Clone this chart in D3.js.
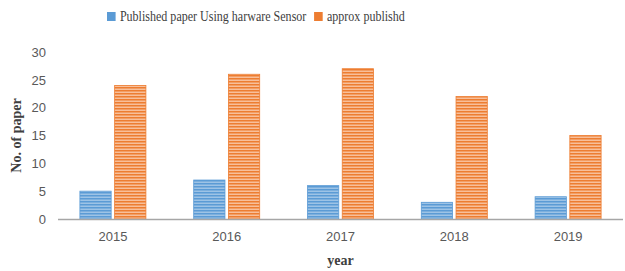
<!DOCTYPE html>
<html lang="en">
<head>
    <meta charset="UTF-8">
    <title>Published papers by year</title>
    <script src="https://cdnjs.cloudflare.com/ajax/libs/d3/7.8.5/d3.min.js"></script>
    <style>
        body { margin: 0; background: #fff; }
        .tick text { font: 13px "Liberation Sans", Arial, sans-serif; fill: #595959; }
        .legend text { font: 14px "Liberation Serif", "Times New Roman", serif; fill: #404040; }
        .axis-title { font: bold 14px "Liberation Serif", "Times New Roman", serif; fill: #404040; }
    </style>
</head>
<body>
<script>
    // chart data
    const years = ["2015", "2016", "2017", "2018", "2019"];
    const hardwarePapers = [5, 7, 6, 3, 4];
    const approxPapers = [24, 26, 27, 22, 15];
    const seriesNames = ["Published paper Using harware Sensor", "approx publishd"];
    const yTicks = [0, 5, 10, 15, 20, 25, 30];

    const width = 625, height = 271;
    const margin = { top: 52, right: 0, bottom: 52, left: 56 };

    const svg = d3.select("body").append("svg")
        .attr("width", width)
        .attr("height", height);

    // striped fills
    const defs = svg.append("defs");
    const fills = [
        { id: "blueStripe", base: "#9dc3e6", line: "#5b9bd5" },
        { id: "orangeStripe", base: "#f8bf9a", line: "#ed7d31" }
    ];
    fills.forEach(f => {
        const p = defs.append("pattern")
            .attr("id", f.id)
            .attr("patternUnits", "userSpaceOnUse")
            .attr("width", 4).attr("height", 3);
        p.append("rect").attr("width", 4).attr("height", 3).attr("fill", f.base);
        p.append("rect").attr("width", 4).attr("height", 1.5).attr("fill", f.line);
    });

    const x = d3.scaleBand()
        .domain(years)
        .range([margin.left, width - margin.right]);

    const inner = d3.scaleBand()
        .domain([0, 1])
        .range([x.bandwidth() / 2 - 33, x.bandwidth() / 2 + 33])
        .paddingInner(0.1);

    const y = d3.scaleLinear()
        .domain([0, 30])
        .range([height - margin.bottom, margin.top]);

    // y axis (labels only)
    const yAxis = svg.append("g")
        .attr("transform", `translate(${margin.left - 10},0)`)
        .call(d3.axisLeft(y).tickValues(yTicks).tickSize(0).tickPadding(0));
    yAxis.select(".domain").remove();

    // bars
    const series = [hardwarePapers, approxPapers];
    const strokes = ["#5b9bd5", "#ed7d31"];
    series.forEach((vals, i) => {
        svg.append("g").selectAll("rect")
            .data(vals)
            .join("rect")
            .attr("x", (d, j) => x(years[j]) + inner(i))
            .attr("y", d => y(d))
            .attr("width", inner.bandwidth())
            .attr("height", d => y(0) - y(d))
            .attr("fill", `url(#${fills[i].id})`)
            .attr("stroke", strokes[i])
            .attr("stroke-width", 0.8);
    });

    // x axis
    const xAxis = svg.append("g")
        .attr("transform", `translate(0,${y(0)})`)
        .call(d3.axisBottom(x).tickSize(0).tickPadding(13));
    xAxis.select(".domain")
        .attr("d", `M${margin.left + 2},0.5H${width - 2}`)
        .attr("stroke", "#a6a6a6")
        .attr("stroke-width", 1.5);

    // axis titles
    svg.append("text")
        .attr("class", "axis-title")
        .attr("transform", `translate(21,${(y(0) + y(30)) / 2}) rotate(-90)`)
        .attr("text-anchor", "middle")
        .text("No. of paper");

    svg.append("text")
        .attr("class", "axis-title")
        .attr("x", x("2017") + x.bandwidth() / 2)
        .attr("y", 265)
        .attr("text-anchor", "middle")
        .text("year");

    // legend, laid out left to right; text a little narrowed like the source
    const legend = svg.append("g").attr("class", "legend")
        .attr("transform", "translate(107,0) scale(0.86,1)");
    let lx = 0;
    seriesNames.forEach((name, i) => {
        legend.append("rect")
            .attr("x", lx).attr("y", 12)
            .attr("width", 10).attr("height", 9)
            .attr("fill", strokes[i]);
        const t = legend.append("text")
            .attr("x", lx + 15).attr("y", 21.5)
            .text(name);
        lx += 15 + t.node().getComputedTextLength() + 9;
    });
</script>
</body>
</html>
